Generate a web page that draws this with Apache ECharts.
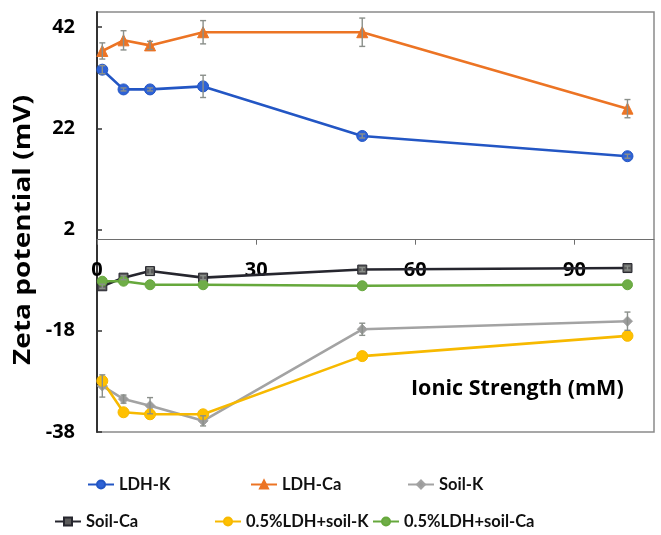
<!DOCTYPE html>
<html>
<head>
<meta charset="utf-8">
<script src="https://cdn.jsdelivr.net/npm/echarts@6/dist/echarts.min.js"></script>
<style>
  html, body { margin: 0; padding: 0; background: #fff; }
  #chart { width: 661px; height: 535px; }
</style>
</head>
<body>
<div id="chart"></div>
<script>
// Ionic strength (mM) at which each suspension was measured
const ionicStrength = [1, 5, 10, 20, 50, 100];

// Zeta potential (mV) and standard deviations per suspension
const ldhK = [33.6, 29.7, 29.7, 30.3, 20.5, 16.5];
const ldhKErr = [0.8, 0.3, 0.3, 2.2, 0.4, 0.4];
const ldhCa = [37.3, 39.4, 38.4, 41.0, 41.0, 25.9];
const ldhCaErr = [1.6, 1.9, 0.8, 2.3, 2.8, 1.8];
const soilK = [-28.9, -31.5, -32.8, -35.8, -17.7, -16.1];
const soilKErr = [2.2, 0.8, 1.6, 1.0, 1.2, 1.8];
const soilCa = [-9.2, -7.5, -6.2, -7.5, -5.9, -5.6];
const soilCaErr = [0.4, 0.4, 0.6, 0.4, 0.4, 0.4];
const ldhSoilK = [-27.9, -34.1, -34.5, -34.5, -23.0, -19.0];
const ldhSoilCa = [-8.2, -8.2, -8.9, -8.9, -9.1, -8.9];

// Axis tick labels
const xTicks = [0, 30, 60, 90];
const yTicks = [-38, -18, 2, 22, 42];

const AXIS_FONT = "'Open Sans', 'DejaVu Sans', sans-serif";
const LEGEND_FONT = "'Lato', 'Roboto', sans-serif";

// Plot box geometry (pixels) and value range of the zeta axis
const GRID = { left: 97, top: 12, right: 7, bottom: 103 };
const Y_MIN = -38, Y_MAX = 45;
const PLOT_H = 535 - GRID.top - GRID.bottom;
// The ionic-strength axis sits on the zero line of the zeta axis
const X_AXIS_SHIFT = -PLOT_H * (0 - Y_MIN) / (Y_MAX - Y_MIN);

function pairs(values) {
  return ionicStrength.map((x, i) => [x, values[i]]);
}

function lineSeries(name, values, lineColor, markColor, symbol, size) {
  return {
    name: name,
    type: 'line',
    data: pairs(values),
    symbol: symbol,
    symbolSize: size,
    z: 4,
    lineStyle: { color: lineColor, width: 2.6 },
    itemStyle: { color: markColor, borderColor: lineColor, borderWidth: 1 }
  };
}

// Vertical error bars with small caps, placed through the chart's own scales
function errorSeries(name, values, errs) {
  return {
    name: name + ' sd',
    type: 'custom',
    silent: true,
    z: 5,
    data: ionicStrength.map((x, i) => [x, values[i] - errs[i], values[i] + errs[i]]),
    encode: { x: 0, y: [1, 2] },
    renderItem: function (params, api) {
      const lo = api.coord([api.value(0), api.value(1)]);
      const hi = api.coord([api.value(0), api.value(2)]);
      const w = 3;
      const style = { stroke: '#8a8f8a', lineWidth: 1.4 };
      return {
        type: 'group',
        children: [
          { type: 'line', shape: { x1: lo[0], y1: lo[1], x2: hi[0], y2: hi[1] }, style: style },
          { type: 'line', shape: { x1: lo[0] - w, y1: lo[1], x2: lo[0] + w, y2: lo[1] }, style: style },
          { type: 'line', shape: { x1: hi[0] - w, y1: hi[1], x2: hi[0] + w, y2: hi[1] }, style: style }
        ]
      };
    }
  };
}

function legendAt(name, left, top) {
  return {
    data: [name],
    left: left,
    top: top,
    padding: 0,
    itemWidth: 26,
    itemHeight: 10,
    itemGap: 0,
    textStyle: { fontFamily: LEGEND_FONT, fontSize: 16.5, fontWeight: 'bold', color: '#111' }
  };
}

const chart = echarts.init(document.getElementById('chart'), null, { renderer: 'canvas' });

chart.setOption({
  animation: false,
  backgroundColor: '#fff',
  grid: {
    left: GRID.left, top: GRID.top, right: GRID.right, bottom: GRID.bottom,
    show: true, borderColor: '#8a8a8a', borderWidth: 1.5, backgroundColor: 'transparent'
  },
  xAxis: {
    type: 'value',
    min: 0, max: 105,
    offset: X_AXIS_SHIFT,
    axisLine: { onZero: false, lineStyle: { color: '#6e6e6e', width: 1.2 } },
    axisTick: { show: true, inside: false, length: 5, lineStyle: { color: '#6e6e6e' }, customValues: xTicks },
    axisLabel: {
      customValues: xTicks, margin: 21,
      fontFamily: AXIS_FONT, fontSize: 20, fontWeight: 'bold', color: '#000'
    },
    splitLine: { show: false }
  },
  yAxis: {
    type: 'value',
    min: Y_MIN, max: Y_MAX,
    axisLine: { show: true, lineStyle: { color: '#333', width: 2 } },
    axisTick: { show: true, inside: true, length: 5, lineStyle: { color: '#333', width: 1.5 }, customValues: yTicks },
    axisLabel: {
      customValues: yTicks, margin: 22,
      fontFamily: AXIS_FONT, fontSize: 20, fontWeight: 'bold', color: '#000'
    },
    splitLine: { show: false }
  },
  legend: [
    legendAt('LDH-K', 87, 476),
    legendAt('LDH-Ca', 250, 476),
    legendAt('Soil-K', 407, 476),
    legendAt('Soil-Ca', 54, 513),
    legendAt('0.5%LDH+soil-K', 214, 513),
    legendAt('0.5%LDH+soil-Ca', 372, 513)
  ],
  graphic: [
    {
      type: 'text', left: 12, top: 95,
      style: {
        text: 'Zeta potential (mV)', fill: '#000',
        font: "bold 23px 'Open Sans', 'DejaVu Sans', sans-serif"
      },
      rotation: Math.PI / 2,
      scaleX: 1.22
    },
    {
      type: 'text', left: 411, top: 378,
      style: {
        text: 'Ionic Strength (mM)', fill: '#000',
        font: "bold 21.5px 'Open Sans', 'DejaVu Sans', sans-serif"
      }
    }
  ],
  series: [
    lineSeries('LDH-K', ldhK, '#2356c4', '#2e62d6', 'circle', 11),
    lineSeries('LDH-Ca', ldhCa, '#ec7424', '#ec7424', 'triangle', 11),
    lineSeries('Soil-K', soilK, '#a3a3a3', '#9c9c9c', 'diamond', 10),
    lineSeries('Soil-Ca', soilCa, '#26262e', '#5b5b5b', 'rect', 9),
    lineSeries('0.5%LDH+soil-K', ldhSoilK, '#f7b900', '#ffc000', 'circle', 11),
    lineSeries('0.5%LDH+soil-Ca', ldhSoilCa, '#66a83c', '#6fad47', 'circle', 10),
    errorSeries('LDH-K', ldhK, ldhKErr),
    errorSeries('LDH-Ca', ldhCa, ldhCaErr),
    errorSeries('Soil-K', soilK, soilKErr),
    errorSeries('Soil-Ca', soilCa, soilCaErr)
  ]
});
</script>
</body>
</html>
